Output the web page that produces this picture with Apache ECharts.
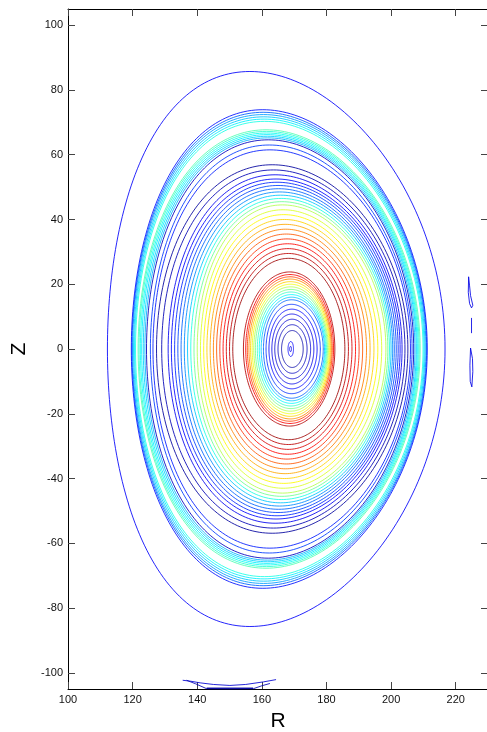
<!DOCTYPE html>
<html>
<head>
<meta charset="utf-8">
<script src="https://cdn.jsdelivr.net/npm/echarts@6/dist/echarts.min.js"></script>
<style>
  html, body { margin: 0; padding: 0; background: #fff; }
  #chart { width: 487px; height: 732px; }
</style>
</head>
<body>
<div id="chart"></div>
<script>
// Axis ticks
const rTicks = [100, 120, 140, 160, 180, 200, 220];
const zTicks = [-100, -80, -60, -40, -20, 0, 20, 40, 60, 80, 100];

// Flux surfaces, from the magnetic axis outwards.
// Inboard / outboard midplane crossing (R), peak height (Z), R at the peak, colour level (0..1)
const surfIn = [
  168.6, 168.1, 166.1, 165.0, 164.0, 163.1, 162.2, 161.3, 160.5,
  159.8, 159.2, 158.6, 158.0, 157.5, 157.0, 156.5, 156.0, 155.5, 155.0, 154.3,
  151.0, 150.0, 149.0, 148.0, 147.0, 146.0, 145.0, 144.0, 143.0, 142.0, 141.0, 140.0,
  139.0, 138.0, 137.0, 136.0, 135.0, 134.0, 133.0, 132.0, 131.0, 129.0, 127.4,
  126.3, 125.5, 124.3,
  123.8, 123.3, 122.8, 122.4, 122.0, 121.7,
  120.9, 120.6, 120.3, 120.0, 119.8, 119.6,
  112.2
];
const surfOut = [
  169.2, 169.8, 172.8, 174.0, 175.1, 176.1, 177.1, 178.1, 179.0,
  179.4, 179.7, 180.0, 180.3, 180.6, 180.9, 181.2, 181.5, 181.8, 182.2, 182.6,
  185.7, 186.8, 187.9, 189.0, 190.1, 191.2, 192.4, 193.5, 194.7, 195.9, 197.1, 198.4,
  199.0, 199.5, 200.0, 200.5, 201.0, 201.6, 202.2, 202.8, 203.4, 204.3, 205.2,
  206.0, 206.5, 207.0,
  207.4, 207.8, 208.1, 208.4, 208.7, 209.0,
  209.9, 210.2, 210.5, 210.8, 211.0, 211.2,
  216.7
];
const surfHeight = [
  0.8, 2.3, 5.7, 7.5, 9.2, 10.8, 12.3, 13.8, 15.2,
  16.0, 16.8, 17.6, 18.4, 19.2, 20.0, 20.8, 21.6, 22.3, 23.0, 23.8,
  28.0, 29.5, 31.0, 32.5, 34.0, 35.5, 37.0, 38.5, 40.0, 41.5, 43.0, 44.5,
  45.5, 46.5, 47.5, 48.5, 49.5, 50.5, 51.5, 52.5, 53.8, 55.3, 56.9,
  61.5, 63.0, 64.6,
  65.2, 65.7, 66.2, 66.7, 67.2, 67.7,
  70.3, 71.0, 71.7, 72.4, 73.1, 73.9,
  85.7
];
const surfPeakR = [
  168.9, 168.95, 169.4, 169.4, 169.4, 169.3, 169.3, 169.2, 169.2,
  169.2, 169.1, 169.0, 169.0, 168.9, 168.9, 168.8, 168.8, 168.7, 168.7, 168.6,
  168.3, 168.2, 168.1, 168.0, 167.8, 167.6, 167.4, 167.2, 167.0, 166.8, 166.6, 166.4,
  166.2, 166.0, 165.8, 165.5, 165.2, 165.0, 164.7, 164.4, 164.1, 163.6, 163.2,
  162.5, 162.3, 162.0,
  161.8, 161.7, 161.6, 161.5, 161.4, 161.3,
  160.8, 160.7, 160.6, 160.5, 160.4, 160.3,
  156.3
];
const surfLevel = [
  0.10, 0.12, 0.04, 0.06, 0.08, 0.10, 0.13, 0.17, 0.22,
  0.32, 0.37, 0.43, 0.49, 0.55, 0.61, 0.67, 0.74, 0.81, 0.88, 0.95,
  0.97, 0.94, 0.91, 0.87, 0.83, 0.79, 0.75, 0.71, 0.67, 0.63, 0.59, 0.55,
  0.48, 0.40, 0.32, 0.26, 0.22, 0.19, 0.16, 0.13, 0.11, 0.05, 0.03,
  0.15, 0.18, 0.06,
  0.30, 0.33, 0.36, 0.39, 0.42, 0.45,
  0.40, 0.36, 0.32, 0.28, 0.22, 0.14,
  0.12
];

// Open contour pieces near the divertor and the outboard wall (R, Z)
const divertorUpper = [[135.5, -102.3], [138.0, -102.6], [140.9, -103.1], [145.0, -103.6], [150.1, -103.9], [155.0, -103.6], [160.5, -102.8], [164.4, -102.1]];
const divertorLower = [[136.7, -102.3], [139.5, -103.4], [142.9, -104.9], [150.0, -105.0], [157.4, -104.9], [160.0, -104.0], [162.5, -103.3]];
const divertorFloor = [[142.9, -104.8], [157.3, -104.8]];
const divertorLevel = [0.08, 0.05, 0.03];
const wallLoopA = [[224.0, 22.3], [224.3, 19.5], [224.6, 16.5], [225.3, 13.5], [224.9, 12.7], [224.3, 14.0], [223.9, 17.5], [224.0, 22.3]];
const wallLoopB = [[224.9, 9.6], [224.9, 4.9]];
const wallLoopC = [[224.6, 0.3], [225.2, -3.0], [225.3, -7.0], [225.0, -11.7], [224.5, -10.0], [224.4, -5.0], [224.6, 0.3]];
const wallLevel = 0.1;

// MATLAB-style jet colour map
function jet(v) {
  const c = x => Math.max(0, Math.min(1, x));
  const r = c(1.5 - Math.abs(4 * v - 3));
  const g = c(1.5 - Math.abs(4 * v - 2));
  const b = c(1.5 - Math.abs(4 * v - 1));
  return 'rgb(' + Math.round(r * 255) + ',' + Math.round(g * 255) + ',' + Math.round(b * 255) + ')';
}

// Closed D-shaped surface from midplane crossings, height and peak position
function surface(i) {
  const r0 = (surfIn[i] + surfOut[i]) / 2;
  const a = (surfOut[i] - surfIn[i]) / 2;
  const kappa = surfHeight[i] / a;
  const delta = Math.max(-0.9, Math.min(0.9, (r0 - surfPeakR[i]) / a));
  const sd = Math.asin(delta);
  const pts = [];
  const n = 240;
  for (let k = 0; k <= n; k++) {
    const t = (2 * Math.PI * k) / n;
    pts.push([r0 + a * Math.cos(t + sd * Math.sin(t)), kappa * a * Math.sin(t)]);
  }
  return pts;
}

const lineData = [];
for (let i = 0; i < surfIn.length; i++) {
  lineData.push({ coords: surface(i), lineStyle: { color: jet(surfLevel[i]) } });
}
lineData.push({ coords: divertorUpper, lineStyle: { color: jet(divertorLevel[0]) } });
lineData.push({ coords: divertorLower, lineStyle: { color: jet(divertorLevel[1]) } });
lineData.push({ coords: divertorFloor, lineStyle: { color: jet(divertorLevel[2]), width: 1.6 } });
[wallLoopA, wallLoopB, wallLoopC].forEach(p => lineData.push({ coords: p, lineStyle: { color: jet(wallLevel) } }));

const tickLabel = { color: '#111', fontSize: 11, fontFamily: 'Liberation Sans, Arial, sans-serif' };
const nameStyle = { color: '#000', fontSize: 21, fontFamily: 'Liberation Sans, Arial, sans-serif' };

function makeAxis(kind, pos, ticks, min, max, labels, name) {
  return {
    type: 'value', position: pos, min: min, max: max,
    name: name || '', nameLocation: 'middle',
    nameGap: kind === 'x' ? 22 : 33,
    nameRotate: kind === 'y' ? 90 : 0,
    nameTextStyle: nameStyle,
    splitLine: { show: false },
    axisLine: { show: true, onZero: false, lineStyle: { color: '#000', width: 1 } },
    axisTick: { show: true, inside: true, length: 7, customValues: ticks, lineStyle: { color: '#444', width: 1 } },
    axisLabel: Object.assign({ show: labels, customValues: ticks, margin: 5 }, tickLabel)
  };
}

const chart = echarts.init(document.getElementById('chart'), null, { renderer: 'canvas' });
chart.setOption({
  animation: false,
  backgroundColor: '#fff',
  grid: { left: 68, top: 9, width: 420, height: 680, containLabel: false, outerBoundsMode: 'none' },
  xAxis: [
    makeAxis('x', 'bottom', rTicks, 100, 230, true, 'R'),
    makeAxis('x', 'top', rTicks, 100, 230, false)
  ],
  yAxis: [
    makeAxis('y', 'left', zTicks, -105, 105, true, 'Z'),
    makeAxis('y', 'right', zTicks, -105, 105, false)
  ],
  series: [{
    type: 'lines',
    coordinateSystem: 'cartesian2d',
    xAxisIndex: 0, yAxisIndex: 0,
    polyline: true,
    silent: true,
    lineStyle: { width: 1, opacity: 0.85 },
    data: lineData
  }]
});
</script>
</body>
</html>
